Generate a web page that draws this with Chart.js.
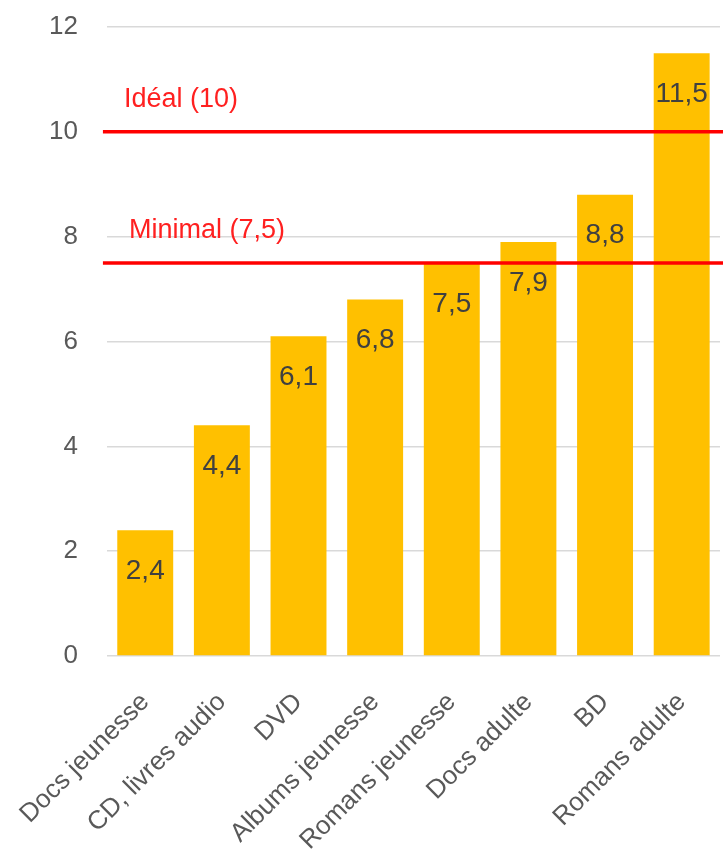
<!DOCTYPE html>
<html>
<head>
<meta charset="utf-8">
<script src="https://cdn.jsdelivr.net/npm/chart.js@4/dist/chart.umd.min.js"></script>
<style>
  body { margin: 0; background: #fff; }
</style>
</head>
<body>
<canvas id="chart" width="723" height="857"></canvas>
<script>
// Données du graphique
const categories = ['Docs jeunesse', 'CD, livres audio', 'DVD', 'Albums jeunesse', 'Romans jeunesse', 'Docs adulte', 'BD', 'Romans adulte'];
const valeurs = [2.4, 4.4, 6.1, 6.8, 7.5, 7.9, 8.8, 11.5];
const seuils = [10, 7.5];
const seuilsLabels = ['Idéal (10)', 'Minimal (7,5)'];
const yTicks = [0, 2, 4, 6, 8, 10, 12];

const police = "'Liberation Sans', Arial, sans-serif";

// Lignes rouges + étiquettes des barres
const seuilsPlugin = {
    id: 'seuils',
    afterDatasetsDraw(chart) {
        const ctx = chart.ctx;
        const y = chart.scales.y;
        const area = chart.chartArea;
        ctx.save();
        seuils.forEach((s, i) => {
            const py = y.getPixelForValue(s);
            ctx.strokeStyle = '#ff0000';
            ctx.lineWidth = 3.5;
            ctx.beginPath();
            ctx.moveTo(area.left - 4, py);
            ctx.lineTo(chart.width, py);
            ctx.stroke();
            ctx.fillStyle = '#ff2020';
            ctx.font = '27px ' + police;
            ctx.textAlign = 'left';
            ctx.textBaseline = 'middle';
            ctx.fillText(seuilsLabels[i], area.left + 17 + i * 5, py - 32);
        });
        // valeurs dans les barres
        const meta = chart.getDatasetMeta(0);
        ctx.fillStyle = '#404040';
        ctx.font = '28px ' + police;
        ctx.textAlign = 'center';
        ctx.textBaseline = 'middle';
        meta.data.forEach((bar, i) => {
            ctx.fillText(String(valeurs[i]).replace('.', ','), bar.x, bar.y + 41);
        });
        ctx.restore();
    }
};

const ctx = document.getElementById('chart').getContext('2d');
const chart = new Chart(ctx, {
    type: 'bar',
    data: {
        labels: categories,
        datasets: [{
            data: valeurs,
            backgroundColor: '#ffc000',
            barPercentage: 0.73,
            categoryPercentage: 1
        }]
    },
    options: {
        responsive: false,
        animation: false,
        layout: { padding: { top: 27, left: 46, right: 3, bottom: 0 } },
        plugins: {
            legend: { display: false },
            tooltip: { enabled: false }
        },
        scales: {
            y: {
                min: 0,
                max: 12,
                afterBuildTicks: axis => { axis.ticks = yTicks.map(v => ({ value: v })); },
                border: { display: false },
                // graduations invisibles pour garder l'écart avec les libellés
                grid: { color: '#d9d9d9', lineWidth: 1.5, drawTicks: true, tickLength: 26, tickColor: 'rgba(0,0,0,0)' },
                ticks: { color: '#595959', font: { size: 26, family: police }, padding: 3 }
            },
            x: {
                border: { display: false },
                grid: { display: false },
                afterFit: scale => {
                    scale.height = 201;
                    scale.paddingLeft = 0;
                    scale.paddingRight = 0;
                },
                ticks: {
                    color: '#595959',
                    font: { size: 26, family: police },
                    minRotation: 45,
                    maxRotation: 45,
                    padding: 23
                }
            }
        }
    },
    plugins: [seuilsPlugin]
});
</script>
</body>
</html>
